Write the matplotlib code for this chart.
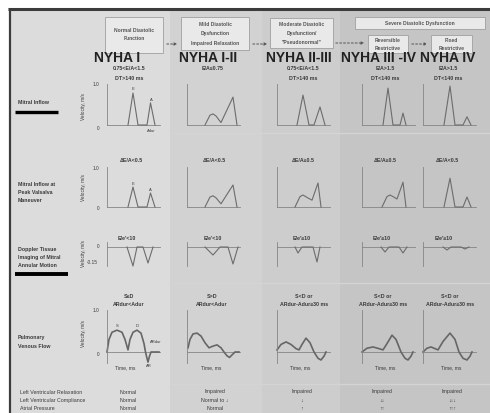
"""
Diastolic dysfunction grading chart: mitral inflow, Valsalva, DTI and
pulmonary venous flow patterns per NYHA stage.
"""
import matplotlib
matplotlib.use("Agg")
import matplotlib.pyplot as plt
from matplotlib.patches import Rectangle

plt.rcParams["font.family"] = ["Liberation Sans", "DejaVu Sans"]

W, H = 490, 413  # canvas in pixels (base axes works in pixel units)

# ── Data ──────────────────────────────────────────────────────────────────────
stages = ["NYHA I", "NYHA I-II", "NYHA II-III", "NYHA III -IV", "NYHA IV"]
criteria = [["0.75<E/A<1.5", "DT>140 ms"], ["E/A≤0.75"],
            ["0.75<E/A<1.5", "DT>140 ms"], ["E/A>1.5", "DT<140 ms"],
            ["E/A>1.5", "DT<140 ms"]]
valsalva_labels = ["ΔE/A<0.5", "ΔE/A<0.5", "ΔE/A≥0.5", "ΔE/A≥0.5", "ΔE/A<0.5"]
dti_labels = ["E/e′<10", "E/e′<10", "E/e′≥10", "E/e′≥10", "E/e′≥10"]
pv_labels = [["S≥D", "ARdur<Adur"], ["S>D", "ARdur<Adur"],
             ["S<D or", "ARdur-Adur≥30 ms"], ["S<D or", "ARdur-Adur≥30 ms"],
             ["S<D or", "ARdur-Adur≥30 ms"]]
row_names = [["Mitral Inflow"],
             ["Mitral Inflow at", "Peak Valsalva", "Maneuver"],
             ["Doppler Tissue", "Imaging of Mitral", "Annular Motion"],
             ["Pulmonary", "Venous Flow"]]
table_rows = ["Left Ventricular Relaxation", "Left Ventricular Compliance",
              "Atrial Pressure"]
relaxation = ["Normal", "Impaired", "Impaired", "Impaired", "Impaired"]
compliance = ["Normal", "Normal to ↓", "↓", "↓↓", "↓↓↓"]
atrial_pressure = ["Normal", "Normal", "↑", "↑↑", "↑↑↑"]

# mitral inflow, time (ms) / velocity (m/s)
mitral_t = [[210, 260, 310, 400, 435, 480],
            [180, 230, 260, 290, 340, 460, 500],
            [200, 260, 320, 370, 430, 480],
            [210, 260, 310, 380, 410, 440],
            [210, 270, 320, 400, 440, 480]]
mitral_v = [[0, 0.78, 0, 0, 0.54, 0],
            [0, 0.24, 0.27, 0.22, 0.06, 0.68, 0],
            [0, 0.73, 0, 0, 0.44, 0],
            [0, 0.90, 0, 0, 0.29, 0],
            [0, 0.95, 0, 0, 0.20, 0]]

# mitral inflow at peak Valsalva
valsalva_t = [[210, 260, 310, 400, 435, 480],
              [180, 230, 260, 290, 340, 460, 500],
              [180, 230, 260, 300, 350, 410, 440],
              [200, 250, 280, 310, 350, 410, 440],
              [210, 270, 320, 400, 440, 480]]
valsalva_v = [[0, 0.50, 0, 0, 0.35, 0],
              [0, 0.25, 0.28, 0.23, 0.08, 0.55, 0],
              [0, 0.26, 0.30, 0.24, 0.17, 0.60, 0],
              [0, 0.26, 0.30, 0.26, 0.20, 0.62, 0],
              [0, 0.72, 0, 0, 0.25, 0]]

# tissue Doppler of mitral annulus
dti_t = [[200, 260, 300, 360, 410, 460],
         [180, 260, 330, 410, 460, 510],
         [180, 210, 250, 360, 400, 430],
         [190, 230, 270, 370, 410, 450],
         [200, 240, 280, 380, 420, 460]]
dti_v = [[0, -0.19, 0, 0, -0.16, 0],
         [0, -0.08, 0, 0, -0.17, 0],
         [0, -0.06, 0, 0, -0.15, 0],
         [0, -0.05, 0, 0, -0.06, 0],
         [0, -0.03, 0, 0, -0.02, 0]]

# pulmonary venous flow
pv_t = [[0, 20, 50, 100, 150, 180, 210, 230, 260, 300, 340, 370, 385, 400, 410, 425, 440, 520],
        [10, 30, 60, 100, 140, 180, 220, 260, 300, 340, 370, 400, 425, 450, 480, 520],
        [0, 40, 90, 140, 190, 220, 250, 290, 330, 370, 410, 440, 470, 490],
        [0, 50, 110, 170, 210, 250, 300, 340, 390, 430, 460, 490, 510],
        [0, 40, 80, 120, 150, 200, 270, 320, 360, 400, 440, 470, 490]]
pv_v = [[0, 0.30, 0.47, 0.52, 0.47, 0.30, 0.05, 0.30, 0.47, 0.52, 0.45, 0.20, 0, -0.15, -0.24, -0.10, 0, 0],
        [0.10, 0.30, 0.43, 0.45, 0.38, 0.22, 0.10, 0.14, 0.17, 0.10, 0, -0.09, -0.13, -0.07, 0, 0],
        [0.05, 0.18, 0.24, 0.18, 0.08, 0.05, 0.18, 0.33, 0.22, 0, -0.15, -0.19, -0.10, 0],
        [0, 0.09, 0.12, 0.08, 0.05, 0.20, 0.40, 0.30, 0, -0.15, -0.19, -0.10, 0],
        [0, 0.09, 0.12, 0.08, 0.05, 0.25, 0.45, 0.30, 0, -0.15, -0.19, -0.10, 0]]

# ── Layout (pixels) ───────────────────────────────────────────────────────────
col_x0 = [107, 187, 277, 362, 423]      # y-axis of each column
nyha_x = [117, 208, 299, 378, 448]
crit_x = [129, 213, 303, 385, 448]
vals_x = [131, 214, 303, 385, 447]
dti_x = [127, 213, 302, 382, 444]
pv_x = [129, 212, 304, 383, 450]
time_x = [125, 211, 300, 385, 451]
tab_x = [128, 215, 302, 382, 452]
PW = 53
TXT = "#3a3a3a"
WAVE = "#6c6c6c"
AXC = "#858585"

fig = plt.figure(figsize=(W / 100, H / 100), dpi=100)
fig.patch.set_facecolor("white")
ax = fig.add_axes([0, 0, 1, 1])
ax.set_xlim(0, W)
ax.set_ylim(H, 0)
ax.axis("off")

# background bands + frame
for x0, x1, c in [(10, 170, "#dcdcdc"), (170, 262, "#d2d2d2"),
                  (262, 340, "#cdcdcd"), (340, 490, "#c5c5c5")]:
    ax.add_patch(Rectangle((x0, 9), x1 - x0, H - 9, facecolor=c, edgecolor="none"))
for yy in [133, 283, 384]:
    ax.plot([170, 490], [yy, yy], color="#d4d4d4", lw=1.0)
ax.plot([8, 490], [8.5, 8.5], color="#3c3c3c", lw=2.2, solid_capstyle="butt")
ax.plot([9.5, 9.5], [8, H], color="#3c3c3c", lw=1.6, solid_capstyle="butt")

# header boxes
boxes = [((105, 17, 58, 36), ["Normal Diastolic", "Function"], [31, 39]),
         ((181, 17, 68, 33), ["Mild Diastolic", "Dysfunction", "Impaired Relaxation"], [25, 33, 44]),
         ((270, 18, 63, 30), ["Moderate Diastolic", "Dysfunction/", "\"Pseudonormal\""], [25, 33, 43]),
         ((355, 17, 130, 12), ["Severe Diastolic Dysfunction"], [23]),
         ((368, 35, 40, 18), ["Reversible", "Restrictive"], [41, 48]),
         ((431, 35, 41, 18), ["Fixed", "Restrictive"], [41, 48])]
for (bx, by, bw, bh), lines, ys in boxes:
    ax.add_patch(Rectangle((bx, by), bw, bh, facecolor="#e9e9e9",
                           edgecolor="#a0a0a0", lw=0.6))
    for s, yy in zip(lines, ys):
        ax.text(bx + bw / 2, yy, s, ha="center", va="center", fontsize=3.6,
                fontweight="bold", color="#555555")
for xa, xb, yy in [(164, 180, 44), (250, 270, 44), (333, 367, 43), (409, 430, 44)]:
    ax.annotate("", xy=(xb, yy), xytext=(xa, yy),
                arrowprops=dict(arrowstyle="-|>", lw=0.7, ls=(0, (2, 2)),
                                color="#555555", mutation_scale=4))

# stage headings
for i, s in enumerate(stages):
    ax.text(nyha_x[i], 58, s, ha="center", va="center", fontsize=10,
            fontweight="bold", color="#222222")
    for j, c in enumerate(criteria[i]):
        ax.text(crit_x[i], 69 + 10 * j, c, ha="center", va="center",
                fontsize=3.8, fontweight="bold", color=TXT)
    ax.text(vals_x[i], 161, valsalva_labels[i], ha="center", va="center",
            fontsize=3.8, fontweight="bold", color=TXT)
    ax.text(dti_x[i], 239, dti_labels[i], ha="center", va="center",
            fontsize=3.8, fontweight="bold", color=TXT)
    for j, c in enumerate(pv_labels[i]):
        ax.text(pv_x[i], 296 + 9 * j, c, ha="center", va="center",
                fontsize=3.8, fontweight="bold", color=TXT)
    ax.text(time_x[i], 368, "Time, ms", ha="center", va="center",
            fontsize=3.6, color=TXT)
    for j, vals in enumerate([relaxation, compliance, atrial_pressure]):
        ax.text(tab_x[i], 392 + 8.5 * j, vals[i], ha="center", va="center",
                fontsize=3.8, color=TXT)

# row names
for lines, y0 in zip(row_names, [103, 184, 249, 338]):
    for j, s in enumerate(lines):
        ax.text(18, y0 + 8.3 * j, s, ha="left", va="center", fontsize=3.8,
                fontweight="bold", color=TXT)
ax.plot([15, 58], [111.5, 111.5], color="black", lw=2.4, solid_capstyle="butt")
ax.plot([15, 68], [274, 274], color="black", lw=2.8, solid_capstyle="butt")
for j, s in enumerate(table_rows):
    ax.text(20, 392 + 8.5 * j, s, ha="left", va="center", fontsize=3.8, color=TXT)

# y-axis captions of the first column
for yc in [107, 188, 254, 334]:
    ax.text(83, yc, "Velocity, m/s", rotation=90, ha="center", va="center",
            fontsize=3.4, color=TXT)
for s, xx, yy in [("1.0", 96, 85), ("0", 98, 128), ("1.0", 96, 168), ("0", 98, 208),
                  ("0", 98, 247), ("-0.15", 92, 262), ("1.0", 96, 311), ("0", 98, 354)]:
    ax.text(xx, yy, s, ha="center", va="center", fontsize=3.4, color=TXT)
for s, xx, yy in [("E", 133, 89), ("A", 151, 100), ("Adur", 151, 131),
                  ("E", 133, 184), ("A", 150, 190),
                  ("S", 117, 326), ("D", 137, 326), ("ARdur", 156, 342),
                  ("AR", 149, 366)]:
    ax.text(xx, yy, s, ha="center", va="center", fontsize=3.0, color=TXT)


def panel(col, top, bottom, ylim):
    p = fig.add_axes([col_x0[col] / W, 1 - bottom / H, PW / W, (bottom - top) / H])
    p.set_xlim(0, 530)
    p.set_ylim(*ylim)
    p.patch.set_alpha(0)
    for s in ["top", "right", "bottom"]:
        p.spines[s].set_visible(False)
    p.spines["left"].set_color(AXC)
    p.spines["left"].set_linewidth(0.6)
    p.set_xticks([])
    p.set_yticks([])
    p.axhline(0, color=AXC, lw=0.6, clip_on=False)
    return p


for i in range(5):
    p = panel(i, 84, 125, (0, 1.0))
    p.plot(mitral_t[i], mitral_v[i], color=WAVE, lw=0.8, clip_on=False)
    p = panel(i, 167, 207, (0, 1.0))
    p.plot(valsalva_t[i], valsalva_v[i], color=WAVE, lw=0.8, clip_on=False)
    p = panel(i, 242, 266, (-0.19, 0.05))
    p.plot(dti_t[i], dti_v[i], color=WAVE, lw=0.8, clip_on=False)
    p = panel(i, 310, 362.5, (-0.25, 1.0))
    p.plot(pv_t[i], pv_v[i], color="#666666", lw=1.2, clip_on=False)

plt.savefig("out.png", dpi=100)
plt.close()
